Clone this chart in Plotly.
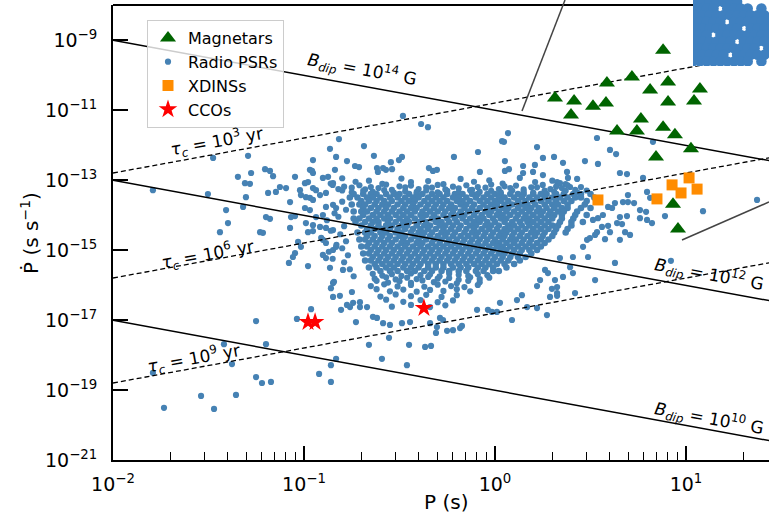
import plotly.graph_objects as go

# ---------------- data (log10 P [s], log10 Pdot [s/s]) ----------------
MAG_LOGP = [0.880, 0.717, 0.586, 0.906, 0.812, 1.073, 0.314, 0.414, 0.513, 0.581, 0.906,
            1.042, 0.398, 0.764, 0.639, 0.743, 0.880, 0.942, 1.026, 0.843, 0.932, 0.958]
MAG_LOGPDOT = [-9.29, -10.06, -10.23, -10.20, -10.43, -10.40, -10.66, -10.74, -10.89, -10.80, -10.77,
               -10.74, -11.14, -11.26, -11.60, -11.60, -11.49, -11.71, -12.11, -12.34, -13.69, -14.40]

XDINS_LOGP = [0.539, 0.848, 0.927, 0.974, 1.016, 1.058]
XDINS_LOGPDOT = [-13.57, -13.54, -13.14, -13.37, -12.94, -13.26]

CCO_LOGP = [-0.979, -0.942, -0.372]
CCO_LOGPDOT = [-17.06, -17.06, -16.66]

# sparse radio pulsars (individually read)
PSR_SPARSE_LOGP = [
    -1.476, -1.293, -1.791, -1.503, -1.346, -1.309, -1.283, -1.277, -1.204, -1.178, -1.162, -1.304,
    -1.319, -1.408, -1.398, -1.440, -1.230, -1.215, -1.199, -1.178, -1.188, -1.147, -1.126, -1.094,
    -1.073, -1.047, -1.068, -1.047, -1.073, -0.953, -0.864, -0.832, -0.969, -0.953, -0.995, -0.979,
    -0.953, -0.937, -0.901, -0.874, -0.848, -1.021, -1.016, -0.990, -0.969, -0.953, -0.916, -0.885,
    -0.885, -0.848, -0.832, -0.995, -0.969, -0.937, -0.901, -0.990, -0.953, -0.916, -0.885, -0.848,
    -0.979, -0.953, -1.031, -1.016, -1.047, -1.058, -1.079, -0.979, -0.901, -0.885, -0.901, -0.885,
    -0.848, -0.832, -0.864, -0.848, -0.859, -0.848, -1.251, -1.037, -0.963, -0.806, -1.199, -1.419,
    -1.377, -1.791, -1.251, -1.220, -1.173, -1.539, -1.356, -1.733, -1.471, -0.921, -0.859, -0.859,
    -0.832, -0.660, -0.592, -0.555, -0.728, -0.796, -0.775, -0.743, -0.707, -0.812, -0.749, -0.843,
    -0.482, -0.387, -0.351, -0.817, -0.686, -0.775, -0.634, -0.733, -0.712, -0.545, -0.487, -0.503,
    -0.215, -0.089, 0.068, 0.037, 0.047, 0.220, 0.052, 0.147, 0.199, -0.079, 0.073, -0.346,
    -0.325, -0.304, -0.618, -0.613, -0.571, -0.539, -0.958, -0.586, 0.052, 0.147, 0.209, 0.251,
    0.309, 0.356, -0.838, 0.534, 0.602, 0.634, 0.471, 0.539, 0.654, 0.691, 0.775, 0.377,
    0.382, 0.325, 0.340, 0.393, 0.251, 0.796, 0.812, 0.696, 0.670, 0.696, 0.728, 0.628,
    0.613, 0.592, 0.759, 0.791, 0.890, 1.089, 1.372, 0.654, 0.691, 0.759, 0.796, 0.822,
    0.639, 0.665, 0.565, 0.539, 0.513, 0.560, 0.592, 0.602, 0.534, 0.524, 0.576, 0.487,
    0.628, 0.524, 0.419, 0.654, 0.681, 0.707, 0.461, 0.482, 0.497, 0.408, 0.393, 0.408,
    0.340, 0.314, 0.325, 0.262, 0.277, 0.921, 0.827, 0.298, 0.325, 0.220, 0.236, 0.272,
    0.089, 0.141, 0.115, 0.026, -0.037, -0.016, -0.094, -0.183, -0.220, -0.251, -0.309, -0.366,
    -0.335, -0.450, -0.461, -0.173, -0.288, -0.272, -0.759, -0.707, -0.670, -0.639, -0.618, -0.586,
    -0.550, -0.487, -0.445, -0.340, -0.304, 0.010, 0.168, 0.220, 0.288, 0.325, 0.356,
]
PSR_SPARSE_LOGPDOT = [
    -12.37, -12.31, -13.29, -13.40, -12.91, -13.09, -13.11, -12.80, -12.69, -12.74, -12.89, -13.49,
    -13.77, -13.86, -14.23, -14.49, -14.49, -14.51, -14.06, -14.11, -13.37, -13.34, -13.20, -13.23,
    -13.63, -12.91, -14.06, -14.03, -14.37, -12.43, -12.11, -12.34, -12.71, -12.80, -13.09, -13.06,
    -13.23, -13.29, -12.94, -12.91, -13.09, -13.29, -13.43, -13.49, -13.51, -13.57, -13.43, -13.37,
    -13.77, -13.71, -13.80, -13.80, -13.86, -14.06, -14.00, -14.23, -14.29, -14.34, -14.37, -14.43,
    -14.49, -14.46, -14.77, -14.91, -15.09, -15.20, -15.37, -15.46, -14.71, -14.80, -15.14, -15.23,
    -15.00, -14.91, -15.51, -15.94, -16.09, -16.34, -17.03, -16.97, -16.69, -16.71, -17.69, -17.69,
    -18.26, -18.51, -18.63, -18.80, -18.77, -19.17, -19.14, -19.51, -19.54, -18.54, -18.29, -18.77,
    -18.11, -17.71, -18.11, -17.51, -17.06, -15.57, -16.57, -16.51, -16.63, -16.31, -16.20, -15.91,
    -11.17, -11.40, -11.49, -11.83, -12.03, -12.46, -12.31, -12.60, -12.63, -12.49, -12.34, -12.43,
    -12.34, -12.20, -11.66, -11.89, -11.91, -12.06, -12.46, -12.60, -12.77, -12.77, -12.69, -12.66,
    -12.74, -12.71, -12.66, -12.77, -12.71, -12.69, -12.74, -12.66, -12.74, -12.80, -12.57, -12.37,
    -12.34, -12.51, -12.71, -11.80, -12.14, -12.26, -12.46, -12.54, -12.80, -12.83, -12.94, -12.77,
    -12.94, -13.06, -13.09, -13.20, -12.86, -13.34, -13.51, -13.43, -13.63, -13.63, -13.66, -13.66,
    -13.80, -13.77, -13.86, -13.91, -14.03, -13.89, -13.57, -14.06, -14.03, -14.09, -14.14, -14.23,
    -14.23, -14.26, -14.00, -14.09, -14.14, -14.34, -14.31, -14.49, -14.49, -14.57, -14.69, -15.20,
    -15.37, -15.86, -16.23, -14.71, -14.49, -14.57, -14.91, -14.71, -14.66, -15.20, -15.49, -15.66,
    -15.23, -15.86, -16.06, -15.57, -15.66, -15.31, -11.91, -16.11, -16.31, -16.03, -15.86, -16.86,
    -17.00, -16.29, -16.43, -16.51, -16.71, -16.77, -16.71, -17.23, -17.29, -17.31, -17.37, -17.77,
    -17.74, -17.71, -18.29, -17.17, -16.94, -17.00, -16.63, -16.49, -16.63, -16.91, -16.94, -17.09,
    -17.14, -17.09, -17.06, -17.09, -17.20, -16.77, -16.63, -16.66, -16.34, -16.23, -15.77,
]

# fringes of the cloud (upper, left and lower edges), read point by point
PSR_FRINGE_LOGP = [
    -0.80, -0.66, -0.49, -0.35, -0.18, -0.03, 0.13, 0.30, 0.43,
    -0.86, -0.73, -0.59, -0.44, -0.27, -0.11, 0.04, 0.21, 0.37,
    -0.85, -0.79, -0.71, -0.65, -0.57, -0.50, -0.44, -0.36, -0.30, -0.22, -0.15, -0.09, -0.02, 0.05,
    0.11, 0.19, 0.25, 0.32, 0.38, 0.45,
    -0.82, -0.75, -0.68, -0.61, -0.54, -0.47, -0.40, -0.33, -0.26, -0.19, -0.12, -0.05, 0.02, 0.08,
    0.15, 0.22, 0.29, 0.35, 0.42,
    -0.80, -0.75, -0.69, -0.64, -0.58, -0.53, -0.47, -0.41, -0.36, -0.30, -0.25, -0.19, -0.13, -0.08,
    -0.02, 0.03, 0.09, 0.15, 0.20, 0.26, 0.31, 0.37, 0.43, 0.48,
    -0.80, -0.78, -0.82, -0.79, -0.81, -0.78, -0.80, -0.77, -0.79, -0.76, -0.84, -0.86, -0.83, -0.85,
    -0.74, -0.88, -0.91, -0.87,
    -0.64, -0.59, -0.54, -0.49, -0.44, -0.39, -0.34, -0.29, -0.24, -0.19, -0.14, -0.09, -0.04,
    -0.63, -0.57, -0.52, -0.46, -0.41, -0.35, -0.30, -0.24, -0.19, -0.13, -0.08, -0.03,
    -0.62, -0.56, -0.50, -0.44, -0.38, -0.32, -0.26, -0.20, -0.14, -0.08,
    -0.65, -0.58, -0.51, -0.44, -0.37, -0.30, -0.23, -0.16, -0.09,
    -0.62, -0.55, -0.48, -0.41, -0.34, -0.27, -0.20, -0.13,
    -0.60, -0.52, -0.44, -0.36, -0.28, -0.20,
    -0.57, -0.48, -0.39, -0.30, -0.22,
    -0.54, -0.44, -0.34, -0.26,
]
PSR_FRINGE_LOGPDOT = [
    -12.95, -13.02, -12.96, -13.03, -12.97, -13.01, -12.94, -13.02, -12.97,
    -13.10, -13.05, -13.11, -13.06, -13.12, -13.05, -13.10, -13.06, -13.12,
    -13.14, -13.19, -13.15, -13.20, -13.13, -13.18, -13.16, -13.21, -13.14, -13.19, -13.15, -13.20,
    -13.13, -13.18, -13.16, -13.21, -13.14, -13.19, -13.15, -13.20,
    -13.26, -13.22, -13.27, -13.23, -13.28, -13.21, -13.26, -13.22, -13.27, -13.24, -13.28, -13.22,
    -13.26, -13.23, -13.27, -13.21, -13.26, -13.23, -13.28,
    -13.30, -13.35, -13.31, -13.34, -13.29, -13.36, -13.32, -13.34, -13.30, -13.35, -13.31, -13.36,
    -13.29, -13.34, -13.31, -13.35, -13.30, -13.33, -13.36, -13.30, -13.34, -13.31, -13.35, -13.30,
    -13.62, -13.85, -14.05, -14.32, -14.55, -14.75, -14.95, -15.15, -15.35, -15.55, -13.95, -14.45,
    -14.85, -15.25, -15.75, -14.15, -14.65, -15.05,
    -15.68, -15.73, -15.69, -15.74, -15.67, -15.72, -15.70, -15.75, -15.68, -15.71, -15.74, -15.69, -15.72,
    -15.82, -15.78, -15.84, -15.79, -15.83, -15.77, -15.82, -15.80, -15.85, -15.78, -15.83, -15.79,
    -15.88, -15.93, -15.89, -15.94, -15.87, -15.92, -15.90, -15.95, -15.88, -15.92,
    -16.03, -15.98, -16.04, -16.00, -16.05, -15.99, -16.03, -16.06, -16.00,
    -16.12, -16.18, -16.13, -16.19, -16.14, -16.17, -16.12, -16.18,
    -16.33, -16.27, -16.32, -16.28, -16.34, -16.29,
    -16.42, -16.48, -16.43, -16.49, -16.44,
    -16.62, -16.57, -16.63, -16.58,
]

# dense core of the cloud, read row by row: (log10 Pdot, [log10 P, ...])
PSR_CORE_ROWS = [
    (-13.40, [-0.74, -0.69, -0.65, -0.62, -0.57, -0.53, -0.50, -0.45, -0.41, -0.38, -0.33, -0.29,
              -0.25, -0.21, -0.17, -0.12, -0.09, -0.04, 0.00, 0.03, 0.08, 0.12, 0.15, 0.20, 0.24, 0.27,
              0.32, 0.36, 0.41, 0.45, 0.50]),
    (-13.50, [-0.76, -0.72, -0.67, -0.64, -0.60, -0.55, -0.51, -0.47, -0.43, -0.40, -0.35, -0.31, -0.27,
              -0.22, -0.19, -0.15, -0.10, -0.06, -0.02, 0.02, 0.05, 0.10, 0.14, 0.18, 0.22, 0.26, 0.30,
              0.34, 0.38, 0.42, 0.45, 0.52]),
    (-13.60, [-0.70, -0.66, -0.62, -0.58, -0.54, -0.49, -0.45, -0.42, -0.37, -0.33, -0.29, -0.25,
              -0.20, -0.17, -0.13, -0.08, -0.04, 0.00, 0.03, 0.07, 0.12, 0.16, 0.20, 0.24, 0.28, 0.32,
              0.36, 0.40, 0.48]),
    (-13.70, [-0.75, -0.71, -0.68, -0.63, -0.59, -0.56, -0.51, -0.47, -0.43, -0.39, -0.35, -0.31, -0.27,
              -0.23, -0.18, -0.15, -0.11, -0.06, -0.02, 0.01, 0.05, 0.09, 0.14, 0.17, 0.21, 0.26, 0.30,
              0.33, 0.38, 0.47]),
    (-13.80, [-0.69, -0.65, -0.61, -0.57, -0.53, -0.48, -0.44, -0.41, -0.36, -0.32, -0.28, -0.24,
              -0.21, -0.16, -0.12, -0.08, -0.04, 0.00, 0.04, 0.07, 0.12, 0.16, 0.19, 0.23, 0.27, 0.31,
              0.35, 0.38, 0.45, 0.50]),
    (-13.90, [-0.74, -0.70, -0.67, -0.62, -0.58, -0.54, -0.50, -0.46, -0.42, -0.38, -0.34, -0.30,
              -0.26, -0.22, -0.18, -0.14, -0.10, -0.05, -0.02, 0.02, 0.06, 0.10, 0.14, 0.18, 0.22, 0.25,
              0.29, 0.33, 0.36, 0.43]),
    (-14.00, [-0.69, -0.64, -0.60, -0.56, -0.52, -0.48, -0.44, -0.39, -0.36, -0.32, -0.27, -0.23,
              -0.19, -0.16, -0.11, -0.07, -0.03, 0.01, 0.04, 0.08, 0.12, 0.16, 0.20, 0.24, 0.28, 0.31,
              0.35, 0.42, 0.48]),
    (-14.10, [-0.74, -0.71, -0.66, -0.62, -0.58, -0.55, -0.50, -0.46, -0.42, -0.38, -0.33, -0.30, -0.25,
              -0.21, -0.17, -0.13, -0.09, -0.06, -0.01, 0.03, 0.06, 0.11, 0.15, 0.18, 0.22, 0.26, 0.30,
              0.35, 0.41]),
    (-14.20, [-0.73, -0.68, -0.64, -0.61, -0.56, -0.52, -0.48, -0.45, -0.40, -0.36, -0.31, -0.28,
              -0.24, -0.20, -0.15, -0.11, -0.08, -0.04, 0.00, 0.05, 0.09, 0.13, 0.17, 0.20, 0.24, 0.28,
              0.34, 0.40, 0.46]),
    (-14.30, [-0.70, -0.65, -0.61, -0.57, -0.54, -0.49, -0.46, -0.41, -0.37, -0.34, -0.29, -0.26,
              -0.22, -0.18, -0.13, -0.10, -0.05, -0.02, 0.02, 0.07, 0.10, 0.14, 0.18, 0.22, 0.26, 0.30,
              0.33, 0.40]),
    (-14.40, [-0.67, -0.63, -0.59, -0.55, -0.51, -0.47, -0.43, -0.39, -0.35, -0.31, -0.27, -0.23,
              -0.19, -0.15, -0.11, -0.07, -0.03, 0.01, 0.05, 0.08, 0.12, 0.16, 0.20, 0.24, 0.28, 0.32,
              0.38]),
    (-14.50, [-0.72, -0.68, -0.65, -0.60, -0.57, -0.52, -0.49, -0.44, -0.40, -0.37, -0.33, -0.28, -0.25,
              -0.21, -0.16, -0.12, -0.09, -0.05, -0.01, 0.03, 0.06, 0.10, 0.14, 0.19, 0.22, 0.26, 0.31,
              0.37]),
    (-14.60, [-0.67, -0.63, -0.59, -0.55, -0.50, -0.47, -0.42, -0.38, -0.34, -0.30, -0.26, -0.22, -0.18,
              -0.14, -0.10, -0.06, -0.02, 0.02, 0.05, 0.09, 0.13, 0.17, 0.21, 0.25, 0.30]),
    (-14.70, [-0.71, -0.68, -0.64, -0.60, -0.56, -0.52, -0.48, -0.44, -0.40, -0.36, -0.32, -0.28, -0.24,
              -0.20, -0.16, -0.12, -0.08, -0.04, 0.00, 0.04, 0.08, 0.11, 0.15, 0.19, 0.24, 0.28]),
    (-14.80, [-0.66, -0.62, -0.58, -0.54, -0.49, -0.46, -0.41, -0.38, -0.33, -0.29, -0.25, -0.21,
              -0.17, -0.13, -0.09, -0.05, -0.01, 0.02, 0.06, 0.10, 0.14, 0.18, 0.22, 0.26]),
    (-14.90, [-0.70, -0.67, -0.63, -0.59, -0.55, -0.51, -0.47, -0.43, -0.39, -0.35, -0.31, -0.27, -0.23,
              -0.19, -0.15, -0.11, -0.07, -0.03, 0.01, 0.04, 0.08, 0.12, 0.16, 0.20, 0.24]),
    (-15.00, [-0.65, -0.61, -0.57, -0.53, -0.49, -0.45, -0.41, -0.37, -0.33, -0.29, -0.25,
              -0.21, -0.17, -0.13, -0.09, -0.05, -0.01, 0.03, 0.06, 0.10, 0.14, 0.18, 0.22]),
    (-15.10, [-0.69, -0.66, -0.62, -0.58, -0.54, -0.50, -0.46, -0.42, -0.38, -0.34, -0.30, -0.26, -0.22,
              -0.18, -0.14, -0.10, -0.06, -0.02, 0.02, 0.05, 0.09, 0.13, 0.19]),
    (-15.20, [-0.64, -0.60, -0.56, -0.52, -0.48, -0.44, -0.40, -0.36, -0.32, -0.28, -0.24, -0.20,
              -0.16, -0.12, -0.08, -0.04, 0.00, 0.04, 0.08, 0.12, 0.16]),
    (-15.30, [-0.68, -0.65, -0.61, -0.57, -0.53, -0.49, -0.45, -0.41, -0.37, -0.33, -0.29, -0.25, -0.21,
              -0.17, -0.13, -0.09, -0.05, -0.01, 0.03, 0.07, 0.13]),
    (-15.40, [-0.63, -0.59, -0.55, -0.51, -0.47, -0.43, -0.39, -0.35, -0.31, -0.27, -0.23, -0.19,
              -0.15, -0.11, -0.07, -0.03, 0.01, 0.05, 0.10]),
    (-15.50, [-0.66, -0.62, -0.57, -0.53, -0.48, -0.44, -0.40, -0.35, -0.31, -0.27, -0.22, -0.18, -0.14,
              -0.09, -0.05, -0.01, 0.06]),
    (-15.60, [-0.60, -0.55, -0.51, -0.46, -0.42, -0.37, -0.33, -0.28, -0.24, -0.19, -0.15, -0.10,
              -0.06, -0.01, 0.02]),
]

# inset: zoomed-in patch of the pulsar cloud (inset-axes units 0..1)
INSET_ROWS = [
    (0.97, [0.04, 0.13, 0.22, 0.31, 0.40, 0.49, 0.58]),
    (0.87, [0.00, 0.09, 0.18, 0.27, 0.45, 0.54, 0.63, 0.72, 0.90]),
    (0.77, [0.04, 0.13, 0.22, 0.31, 0.40, 0.49, 0.58, 0.67, 0.76, 0.85, 0.94]),
    (0.67, [0.00, 0.09, 0.18, 0.27, 0.36, 0.54, 0.63, 0.72, 0.81, 0.90, 0.99]),
    (0.57, [0.04, 0.13, 0.22, 0.31, 0.40, 0.49, 0.58, 0.76, 0.85, 0.94]),
    (0.47, [0.00, 0.09, 0.18, 0.36, 0.45, 0.54, 0.63, 0.72, 0.81, 0.90, 0.99]),
    (0.37, [0.04, 0.13, 0.22, 0.31, 0.40, 0.49, 0.67, 0.76, 0.85, 0.94]),
    (0.27, [0.00, 0.09, 0.18, 0.27, 0.36, 0.45, 0.54, 0.63, 0.72, 0.81, 0.99]),
    (0.17, [0.04, 0.13, 0.22, 0.31, 0.40, 0.58, 0.67, 0.76, 0.85, 0.94]),
    (0.07, [0.00, 0.09, 0.18, 0.27, 0.36, 0.45, 0.54, 0.63, 0.72, 0.90]),
]

B_FIELDS_EXP = [14, 12, 10]      # dipole field lines, 10^n G
TAU_EXP = [3, 6, 9]              # characteristic age lines, 10^n yr
P_LINE_RANGE = [1e-2, 10 ** 1.6]

X_TICKS = [1e-2, 1e-1, 1e0, 1e1]
X_TICKTEXT = ["10<sup>\u22122</sup>", "10<sup>\u22121</sup>", "10<sup>0</sup>", "10<sup>1</sup>"]
X_MINOR = [m * d for d in [1e-2, 1e-1, 1e0, 1e1] for m in range(2, 10)]
Y_TICKS = [10.0 ** e for e in [-21, -19, -17, -15, -13, -11, -9]]
Y_TICKTEXT = ["10<sup>\u2212%d</sup>" % e for e in [21, 19, 17, 15, 13, 11, 9]]

# ---------------- figure ----------------
W, H = 769, 517
ML, MB, MT, MR = 113, 57, 0, 0
PW, PH = W - ML - MR, H - MB - MT


def px2paper_x(px):
    return (px - ML) / PW


def px2paper_y(py):
    return (PH - py) / PH


FONT = "DejaVu Sans"
PSR_COLOR = "#4682b4"
fig = go.Figure()

# radio pulsars: individually read points + fringes (legend entry)
psr_logp = PSR_SPARSE_LOGP + PSR_FRINGE_LOGP
psr_logpdot = PSR_SPARSE_LOGPDOT + PSR_FRINGE_LOGPDOT
fig.add_trace(go.Scatter(
    x=[10 ** v for v in psr_logp], y=[10 ** v for v in psr_logpdot], mode="markers",
    marker=dict(size=6.2, color=PSR_COLOR, line=dict(width=0)),
    name="Radio PSRs", legendrank=2, legendgroup="psr"))
# radio pulsars: dense core
core_logp, core_logpdot = [], []
for yd, xs in PSR_CORE_ROWS:
    core_logp += xs
    core_logpdot += [yd] * len(xs)
fig.add_trace(go.Scatter(
    x=[10 ** v for v in core_logp], y=[10 ** v for v in core_logpdot], mode="markers",
    marker=dict(size=6.6, color=PSR_COLOR, line=dict(width=0)),
    name="Radio PSRs", showlegend=False, legendgroup="psr"))

# B-field lines: Pdot = (B / 3.2e19)^2 / P
for n in B_FIELDS_EXP:
    k = (10.0 ** n / 3.2e19) ** 2
    fig.add_trace(go.Scatter(x=P_LINE_RANGE, y=[k / p for p in P_LINE_RANGE], mode="lines",
                             line=dict(color="black", width=1.5), showlegend=False, hoverinfo="skip"))
# characteristic age lines: Pdot = P / (2 tau)
YR = 3.156e7
for n in TAU_EXP:
    tau = 10.0 ** n * YR
    fig.add_trace(go.Scatter(x=P_LINE_RANGE, y=[p / (2 * tau) for p in P_LINE_RANGE], mode="lines",
                             line=dict(color="black", width=1.3, dash="5px,3px"),
                             showlegend=False, hoverinfo="skip"))

fig.add_trace(go.Scatter(
    x=[10 ** v for v in MAG_LOGP], y=[10 ** v for v in MAG_LOGPDOT], mode="markers",
    marker=dict(symbol="triangle-up", size=14, color="#006400", line=dict(width=0)),
    name="Magnetars", legendrank=1))
fig.add_trace(go.Scatter(
    x=[10 ** v for v in XDINS_LOGP], y=[10 ** v for v in XDINS_LOGPDOT], mode="markers",
    marker=dict(symbol="square", size=11, color="#ff8c00", line=dict(width=0)),
    name="XDINSs", legendrank=3))
fig.add_trace(go.Scatter(
    x=[10 ** v for v in CCO_LOGP], y=[10 ** v for v in CCO_LOGPDOT], mode="markers",
    marker=dict(symbol="star", size=14, color="red", line=dict(width=0)),
    name="CCOs", legendrank=4))

# inset
ix, iy = [], []
for yv, xs in INSET_ROWS:
    ix += xs
    iy += [yv] * len(xs)
fig.add_trace(go.Scatter(x=ix, y=iy, xaxis="x2", yaxis="y2", mode="markers",
                         marker=dict(size=10.5, color="#3f80c0", line=dict(width=0)),
                         showlegend=False, hoverinfo="skip"))

# line labels
ANG = 10.4
labels = [
    (-0.696, -9.83, "<i>B</i><sub><i>dip</i></sub> = 10<sup>14</sup> G", ANG),
    (1.120, -15.69, "<i>B</i><sub><i>dip</i></sub> = 10<sup>12</sup> G", ANG),
    (1.120, -19.80, "<i>B</i><sub><i>dip</i></sub> = 10<sup>10</sup> G", ANG),
    (-1.455, -11.89, "<i>\u03c4</i><sub><i>c</i></sub> = 10<sup>3</sup> yr", -ANG),
    (-1.503, -15.14, "<i>\u03c4</i><sub><i>c</i></sub> = 10<sup>6</sup> yr", -ANG),
    (-1.576, -18.09, "<i>\u03c4</i><sub><i>c</i></sub> = 10<sup>9</sup> yr", -ANG),
]
ann = []
for lx, ly, t, a in labels:
    ann.append(dict(x=lx, y=ly, xref="x", yref="y", text=t, textangle=a, showarrow=False,
                    xanchor="center", yanchor="middle",
                    font=dict(family=FONT, size=17, color="black")))
ann.append(dict(x=px2paper_x(446), y=px2paper_y(502), xref="paper", yref="paper", text="P (s)",
                xanchor="center", yanchor="middle",
                showarrow=False, font=dict(family=FONT, size=20, color="black")))
ann.append(dict(x=px2paper_x(30), y=px2paper_y(233), xref="paper", yref="paper",
                text="\u1e56 (s s<sup>\u22121</sup>)", textangle=-90,
                xanchor="center", yanchor="middle",
                showarrow=False, font=dict(family=FONT, size=20, color="black")))

shapes = [
    # top spine (ends at inset)
    dict(type="line", xref="paper", yref="paper", x0=0, x1=px2paper_x(693),
         y0=px2paper_y(5), y1=px2paper_y(5), line=dict(color="black", width=2)),
    # inset connector lines
    dict(type="line", xref="paper", yref="paper", x0=px2paper_x(522), y0=px2paper_y(111),
         x1=px2paper_x(565), y1=px2paper_y(0), line=dict(color="#444444", width=1.5)),
    dict(type="line", xref="paper", yref="paper", x0=px2paper_x(682), y0=px2paper_y(240),
         x1=px2paper_x(769), y1=px2paper_y(202), line=dict(color="#444444", width=1.5)),
]

fig.update_layout(
    width=W, height=H, margin=dict(l=ML, r=MR, t=MT, b=MB),
    paper_bgcolor="white", plot_bgcolor="white",
    font=dict(family=FONT, size=19, color="black"),
    showlegend=True,
    legend=dict(x=px2paper_x(147), y=px2paper_y(20), xanchor="left", yanchor="top",
                bgcolor="rgba(255,255,255,0.8)", bordercolor="#cccccc", borderwidth=1,
                font=dict(family=FONT, size=16, color="black"), tracegroupgap=0),
    xaxis=dict(type="log", range=[-2, -2 + PW / 191.0], domain=[0, 1], anchor="y",
               showgrid=False, zeroline=False, showline=True, linecolor="black", linewidth=2,
               ticks="inside", ticklen=14, tickwidth=1.5, tickcolor="black",
               tickvals=X_TICKS, ticktext=X_TICKTEXT, ticklabelstandoff=6,
               tickfont=dict(family=FONT, size=19),
               minor=dict(tickvals=X_MINOR, ticks="inside", ticklen=8, tickwidth=1.2,
                          tickcolor="black", showgrid=False)),
    yaxis=dict(type="log", range=[-21, -8], domain=[0, px2paper_y(5)], anchor="x",
               showgrid=False, zeroline=False, showline=True, linecolor="black", linewidth=2,
               ticks="inside", ticklen=15, tickwidth=1.5, tickcolor="black",
               tickvals=Y_TICKS, ticktext=Y_TICKTEXT, ticklabelstandoff=10,
               tickfont=dict(family=FONT, size=19)),
    xaxis2=dict(domain=[px2paper_x(693), 1], range=[0, 1], anchor="y2", visible=False),
    yaxis2=dict(domain=[px2paper_y(66), 1], range=[0, 1], anchor="x2", visible=False),
    annotations=ann, shapes=shapes,
)

fig.write_html("out.html", config={"displayModeBar": False},
               post_script="document.body.style.margin='0px';")
